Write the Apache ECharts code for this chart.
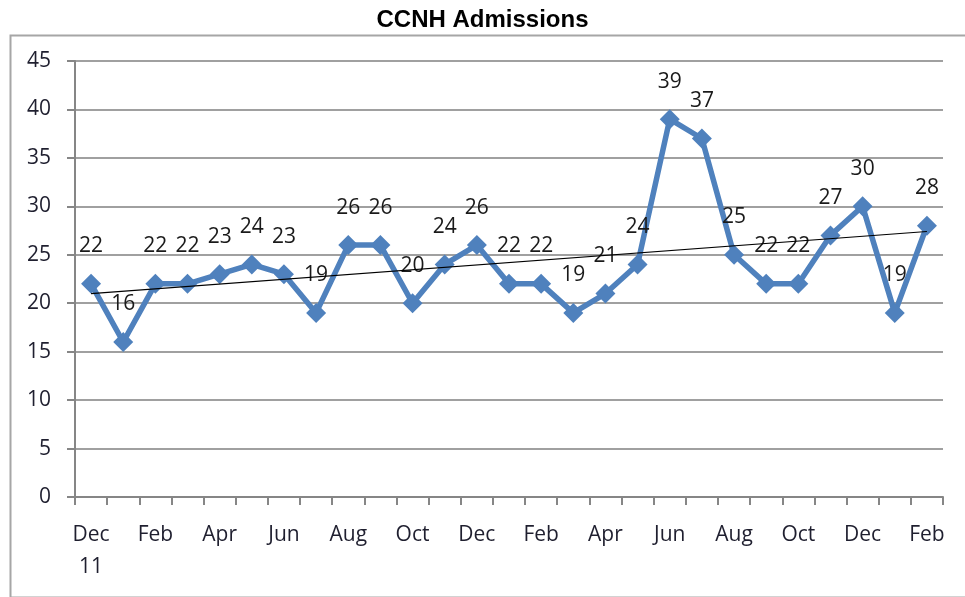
<!DOCTYPE html>
<html>
<head>
<meta charset="utf-8">
<title>CCNH Admissions</title>
<script src="https://cdn.jsdelivr.net/npm/echarts@6/dist/echarts.min.js"></script>
<style>
  html, body { margin: 0; padding: 0; background: #fff; }
  #chart { width: 965px; height: 597px; }
</style>
</head>
<body>
<div id="chart"></div>
<script>
  // months Dec 2011 .. Feb 2014
  var months = ['Dec\n11', 'Jan', 'Feb', 'Mar', 'Apr', 'May', 'Jun', 'Jul', 'Aug', 'Sep', 'Oct', 'Nov',
                'Dec', 'Jan', 'Feb', 'Mar', 'Apr', 'May', 'Jun', 'Jul', 'Aug', 'Sep', 'Oct', 'Nov',
                'Dec', 'Jan', 'Feb'];
  var admissions = [22, 16, 22, 22, 23, 24, 23, 19, 26, 26, 20, 24, 26, 22, 22, 19, 21, 24,
                    39, 37, 25, 22, 22, 27, 30, 19, 28];
  // trend line values read at first and last month
  var trendEnds = [21.0, 27.4];
  var yTicks = [0, 5, 10, 15, 20, 25, 30, 35, 40, 45];

  var myChart = echarts.init(document.getElementById('chart'));

  var textFont = 'Open Sans';

  var option = {
    animation: false,
    title: {
      text: 'CCNH Admissions',
      left: 'center',
      top: 3,
      textStyle: { fontFamily: 'Liberation Sans', fontWeight: 'bold', fontSize: 24, color: '#000' }
    },
    graphic: [{
      type: 'rect',
      left: 8, top: 33,
      shape: { width: 1020, height: 562 },
      style: { fill: 'none', stroke: '#a6a6a6', lineWidth: 2 },
      z: -1
    }],
    grid: { left: 75, right: 22, top: 61, bottom: 100 },
    xAxis: {
      type: 'category',
      data: months,
      boundaryGap: true,
      axisLine: { lineStyle: { color: '#868686', width: 2 } },
      axisTick: { show: true, interval: 0, length: 8, lineStyle: { color: '#868686', width: 2 } },
      axisLabel: {
        interval: 1,
        margin: 22,
        fontFamily: textFont,
        fontSize: 21,
        lineHeight: 32,
        color: '#1f1f2f'
      }
    },
    yAxis: {
      type: 'value',
      min: yTicks[0],
      max: yTicks[yTicks.length - 1],
      interval: 5,
      axisLine: { show: true, lineStyle: { color: '#868686', width: 2 } },
      axisTick: { show: true, length: 8, lineStyle: { color: '#868686', width: 2 } },
      splitLine: { lineStyle: { color: '#a0a0a0', width: 2 } },
      axisLabel: {
        margin: 24,
        fontFamily: textFont,
        fontSize: 21,
        color: '#1f1f2f'
      }
    },
    series: [{
      name: 'Admissions',
      type: 'line',
      data: admissions,
      symbol: 'diamond',
      symbolSize: 20,
      itemStyle: { color: '#4f81bd' },
      lineStyle: { color: '#4f81bd', width: 5.5 },
      label: {
        show: true,
        position: 'top',
        distance: 17,
        fontFamily: textFont,
        fontSize: 21,
        color: '#1a1a1a'
      },
      z: 2
    }, {
      name: 'Trend',
      type: 'line',
      data: [],
      z: 5,
      markLine: {
        silent: true,
        symbol: 'none',
        label: { show: false },
        lineStyle: { color: '#000', width: 1.2, type: 'solid' },
        data: [[
          { coord: [0, trendEnds[0]] },
          { coord: [months.length - 1, trendEnds[1]] }
        ]]
      }
    }]
  };

  myChart.setOption(option);
</script>
</body>
</html>
